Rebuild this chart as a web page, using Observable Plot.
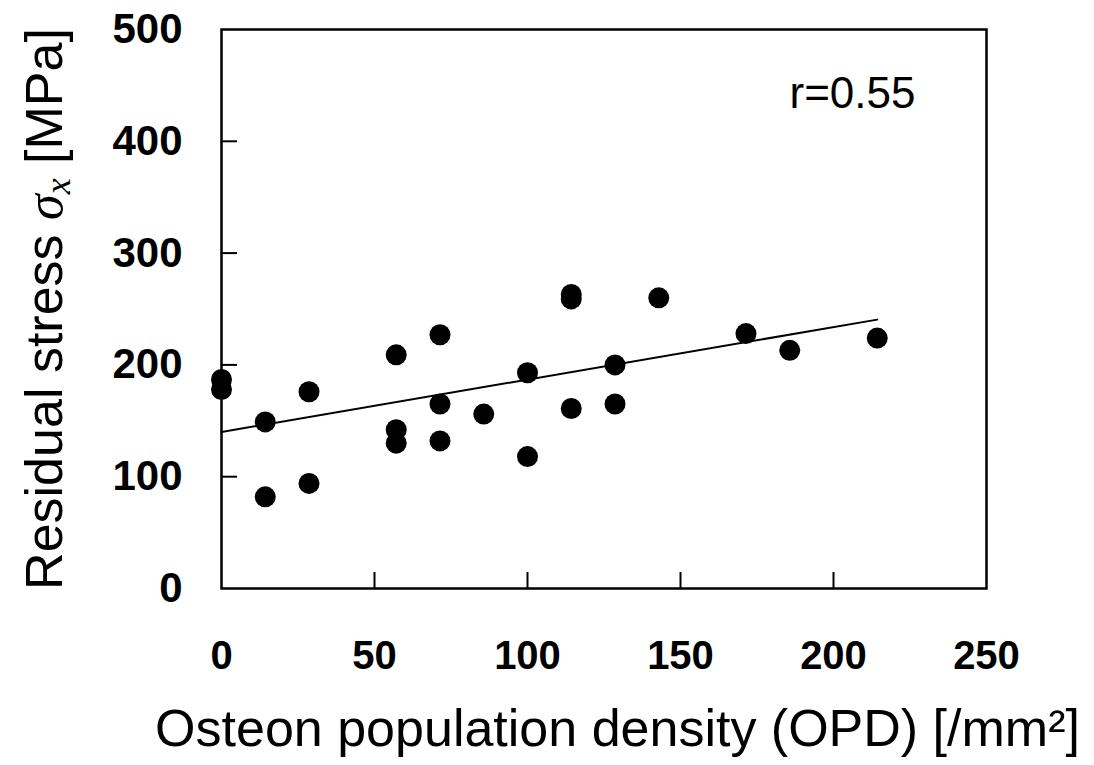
<!DOCTYPE html>
<html>
<head>
<meta charset="utf-8">
<script src="https://cdn.jsdelivr.net/npm/d3@7"></script>
<script src="https://cdn.jsdelivr.net/npm/@observablehq/plot@0.6"></script>
<style>
  html, body { margin: 0; padding: 0; background: #fff; }
  #chart svg { display: block; }
</style>
</head>
<body>
<div id="chart"></div>
<script>
// OPD values (counts per 0.07 mm^2 → multiples of ~14.3 /mm^2)
const opd = [0, 0, 14.3, 14.3, 28.6, 28.6, 57.1, 57.1, 57.1, 71.4, 71.4, 71.4, 85.7,
             100, 100, 114.3, 114.3, 114.3, 128.6, 128.6, 142.9, 171.4, 185.7, 214.3];
const stress = [187, 178, 149, 82, 176, 94, 209, 142, 130, 227, 165, 132, 156,
                193, 118, 263, 259, 161, 200, 165, 260, 228, 213, 224];
// Fitted line as drawn in the figure
const fitX = [0, 214.3];
const fitY = [140, 240.5];
const xTicks = [0, 50, 100, 150, 200, 250];
const yTicks = [0, 100, 200, 300, 400, 500];
const rText = "r=0.55";
const xTitle = "Osteon population density (OPD) [/mm²]";
const yTitle = "Residual stress σx [MPa]";

const points = opd.map((x, i) => ({x, y: stress[i]}));
const fit = fitX.map((x, i) => ({x, y: fitY[i]}));

const W = 1094, H = 765;
const mL = 221, mR = 108, mT = 29, mB = 177;
const plotW = W - mL - mR, plotH = H - mT - mB;

const chart = Plot.plot({
  width: W,
  height: H,
  marginLeft: mL,
  marginRight: mR,
  marginTop: mT,
  marginBottom: mB,
  style: {fontFamily: "'Liberation Sans', Arial, sans-serif", background: "#fff", color: "#000"},
  x: {domain: [0, 250]},
  y: {domain: [0, 500]},
  marks: [
    Plot.axisY(yTicks, {tickSize: 0, tickPadding: 39, fontSize: 42, fontWeight: "bold", label: null}),
    Plot.axisX(xTicks, {tickSize: 0, tickPadding: 52, fontSize: 40, fontWeight: "bold", label: null}),
    Plot.tickY(yTicks.slice(1, -1), {y: d => d, stroke: "#000", strokeWidth: 2, insetRight: plotW - 16}),
    Plot.tickX(xTicks.slice(1, -1), {x: d => d, stroke: "#000", strokeWidth: 2, insetTop: plotH - 16}),
    Plot.frame({stroke: "#000", strokeWidth: 2.5}),
    Plot.line(fit, {x: "x", y: "y", stroke: "#000", strokeWidth: 2}),
    Plot.dot(points, {x: "x", y: "y", r: 10.5, fill: "#000", stroke: "none"}),
    Plot.text([rText], {frameAnchor: "top-right", text: d => d, textAnchor: "end", lineAnchor: "middle",
                        dx: -71, dy: 64, fontSize: 44, fill: "#000"}),
    Plot.text([xTitle], {frameAnchor: "bottom", text: d => d, textAnchor: "middle", lineAnchor: "middle",
                         dx: 13.5, dy: 141, fontSize: 52, fill: "#000"}),
    Plot.text([yTitle], {frameAnchor: "left", text: d => d, textAnchor: "middle", lineAnchor: "middle",
                         rotate: -90, dx: -176, dy: 0, fontSize: 52, fill: "#000"})
  ]
});

document.getElementById("chart").appendChild(chart);

// Rich formatting of the y title: italic σ with italic subscript x
d3.select(chart).selectAll("text").filter(function() { return this.textContent === yTitle; })
  .each(function() {
    const t = d3.select(this);
    t.text(null);
    t.append("tspan").text("Residual stress ");
    t.append("tspan").attr("font-family", "'Liberation Serif', 'DejaVu Serif', serif")
      .attr("font-style", "italic").text("σ");
    t.append("tspan").attr("font-family", "'Liberation Serif', 'DejaVu Serif', serif")
      .attr("font-style", "italic").attr("font-size", 36).attr("dy", 8).text("x");
    t.append("tspan").attr("dy", -8).text(" [MPa]");
  });
</script>
</body>
</html>
